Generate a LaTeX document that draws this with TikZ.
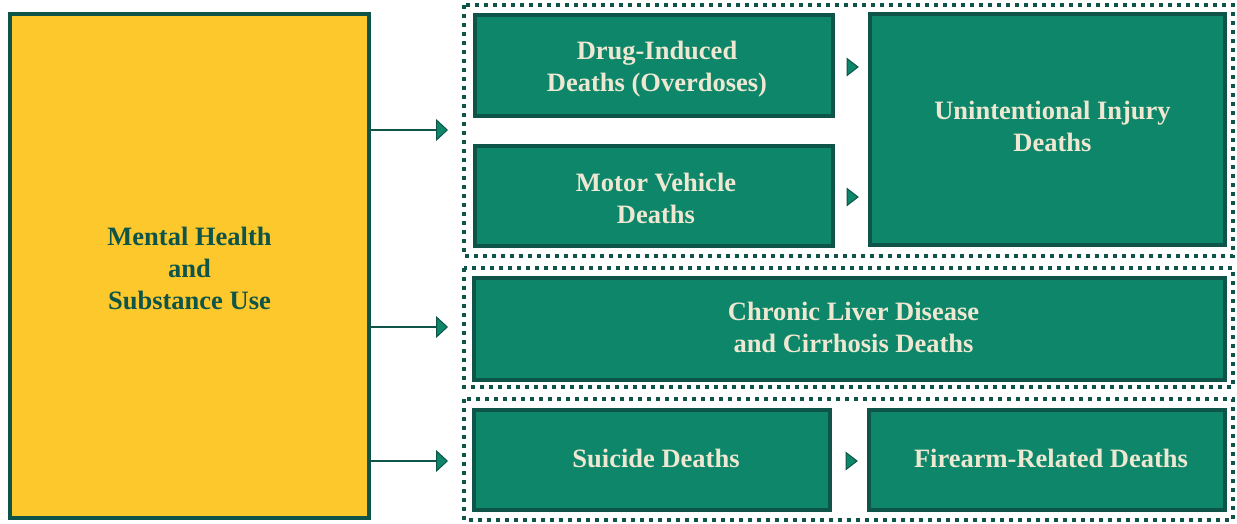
\documentclass[tikz,border=0pt]{standalone}
\usepackage{fontspec}
\setmainfont{Liberation Serif}
\usetikzlibrary{arrows.meta}
\definecolor{dkgreen}{HTML}{0E5448}
\definecolor{mdgreen}{HTML}{0D866A}
\definecolor{mustard}{HTML}{FDC82C}
\definecolor{cream}{HTML}{EEE8D2}
\tikzset{
  gbox/.style={draw=dkgreen, fill=mdgreen, line width=4pt, inner sep=0pt},
  ybox/.style={draw=dkgreen, fill=mustard, line width=4pt, inner sep=0pt},
  gtext/.style={text=cream, align=center, inner sep=0pt,
    font=\bfseries\fontsize{26.5}{32}\selectfont},
  ytext/.style={text=dkgreen, align=center, inner sep=0pt,
    font=\bfseries\fontsize{26.5}{32}\selectfont},
  frame/.style={draw=dkgreen, line width=4pt, dash pattern=on 4pt off 5pt},
  conn/.style={draw=dkgreen, line width=2pt,
    -{Triangle[length=12pt,width=22pt,fill=mdgreen,line width=1pt]}},
  tri/.style={fill=mdgreen, draw=dkgreen, line width=1pt, line join=miter},
}
\begin{document}
\begin{tikzpicture}[x=1pt,y=-1pt]
\useasboundingbox (0,0) rectangle (1237,523);
% dotted frames
\draw[frame] (464,5) rectangle (1233,256);
\draw[frame] (464,268) rectangle (1233,387);
\draw[frame] (464,399) rectangle (1233,520);
% left box
\node[ybox, minimum width=359pt, minimum height=504pt,
  label={[ytext, yshift=-2pt]center:{Mental Health\\and\\Substance Use}}] (mh) at (189.5,266) {};
% green boxes
\node[gbox, minimum width=358pt, minimum height=101pt,
  label={[gtext, xshift=3pt, yshift=-4pt]center:{Drug-Induced\\Deaths (Overdoses)}}] (drug) at (654,65.5) {};
\node[gbox, minimum width=358pt, minimum height=100pt,
  label={[gtext, xshift=2pt, yshift=-2pt]center:{Motor Vehicle\\Deaths}}] (motor) at (654,196) {};
\node[gbox, minimum width=355pt, minimum height=231pt,
  label={[gtext, xshift=5pt, yshift=3.5pt]center:{Unintentional Injury\\Deaths}}] (unint) at (1047.5,129.5) {};
\node[gbox, minimum width=751pt, minimum height=102pt,
  label={[gtext, xshift=4pt, yshift=2pt]center:{Chronic Liver Disease\\and Cirrhosis Deaths}}] (liver) at (849.5,329) {};
\node[gbox, minimum width=356pt, minimum height=100pt,
  label={[gtext, xshift=4pt, yshift=2pt]center:{Suicide Deaths}}] (suic) at (652,460) {};
\node[gbox, minimum width=356pt, minimum height=100pt,
  label={[gtext, xshift=4pt, yshift=2pt]center:{Firearm-Related Deaths}}] (fire) at (1047,460) {};
% connectors from left box
\coordinate (e1) at (448,130);
\coordinate (e2) at (448,327);
\coordinate (e3) at (448,461);
\draw[conn] (mh.east |- e1) -- (e1);
\draw[conn] (mh.east |- e2) -- (e2);
\draw[conn] (mh.east |- e3) -- (e3);
% small triangles between boxes
\coordinate (t1) at (847,67);
\coordinate (t2) at (847,197);
\coordinate (t3) at (846,461);
\foreach \t in {t1,t2,t3}{
  \draw[tri] (\t) ++(0,-8.5) -- ++(11,8.5) -- ++(-11,8.5) -- cycle;
}
\end{tikzpicture}
\end{document}
